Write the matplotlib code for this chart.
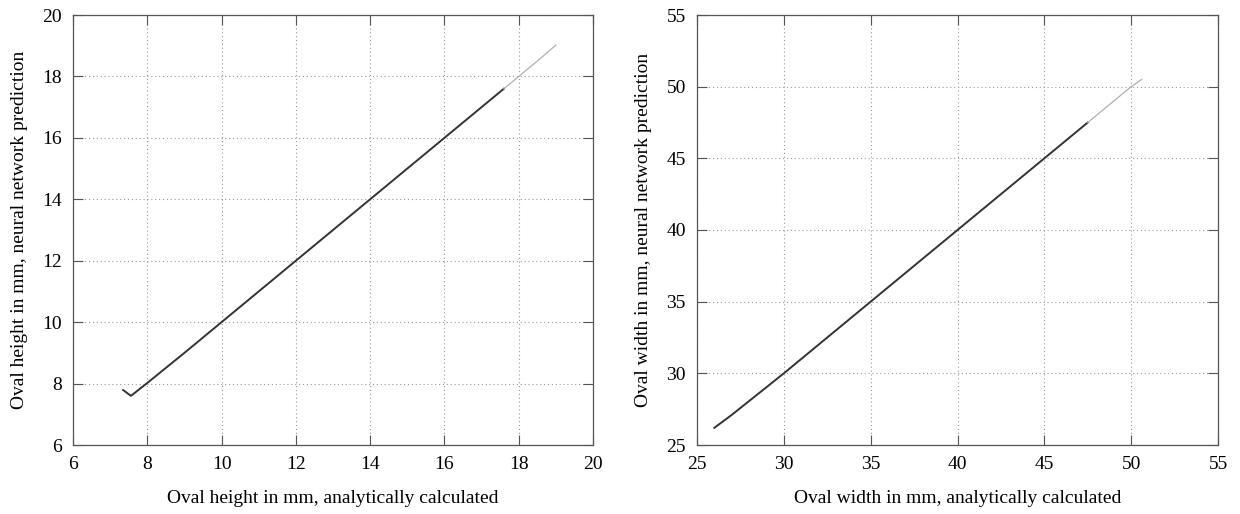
import matplotlib
matplotlib.use("Agg")
import matplotlib.pyplot as plt

plt.rcParams['font.family'] = ['Liberation Serif', 'DejaVu Serif']

# Left panel: oval height (analytical vs. network)
height_calc = [7.35, 7.56, 8.0, 9.0, 10.0, 11.0, 12.0, 13.0, 14.0, 15.0, 16.0, 17.0, 17.6]
height_pred = [7.79, 7.60, 8.02, 9.0, 10.0, 11.0, 12.0, 13.0, 14.0, 15.0, 16.0, 17.0, 17.6]
height_calc_tail = [17.6, 18.0, 18.5, 19.0]
height_pred_tail = [17.6, 18.0, 18.5, 19.02]

# Right panel: oval width
width_calc = [26.0, 27.0, 30.0, 35.0, 40.0, 45.0, 47.5]
width_pred = [26.2, 27.1, 30.0, 35.0, 40.0, 45.0, 47.5]
width_calc_tail = [47.5, 49.0, 50.0, 50.6]
width_pred_tail = [47.5, 49.0, 50.0, 50.5]

height_ticks = [6, 8, 10, 12, 14, 16, 18, 20]
width_ticks = [25, 30, 35, 40, 45, 50, 55]

fig = plt.figure(figsize=(12.4, 5.14), dpi=100)
ax1 = fig.add_axes([73/1240, 1-445/514, 520/1240, 430/514])
ax2 = fig.add_axes([697/1240, 1-445/514, 521/1240, 430/514])

def style(ax, ticks, xlabel, ylabel):
    ax.set_xlim(ticks[0], ticks[-1])
    ax.set_ylim(ticks[0], ticks[-1])
    ax.set_xticks(ticks)
    ax.set_yticks(ticks)
    ax.grid(True, linestyle=(0, (1, 2.5)), color='#9a9a9a', linewidth=0.8)
    ax.tick_params(direction='in', top=True, right=True, length=7, width=0.8,
                   color='#555555', labelsize=14, pad=8)
    for s in ax.spines.values():
        s.set_color('#555555')
        s.set_linewidth(0.9)
    ax.set_xlabel(xlabel, fontsize=14, labelpad=12)
    ax.set_ylabel(ylabel, fontsize=14, labelpad=10)

ax1.plot(height_calc, height_pred, color='#333333', linewidth=1.4)
ax1.plot(height_calc_tail, height_pred_tail, color='#b0b0b0', linewidth=0.9)
ax2.plot(width_calc, width_pred, color='#333333', linewidth=1.4)
ax2.plot(width_calc_tail, width_pred_tail, color='#b0b0b0', linewidth=0.9)

style(ax1, height_ticks, 'Oval height in mm, analytically calculated',
      'Oval height in mm, neural network prediction')
style(ax2, width_ticks, 'Oval width in mm, analytically calculated',
      'Oval width in mm, neural network prediction')

fig.savefig('out.png', dpi=100)
